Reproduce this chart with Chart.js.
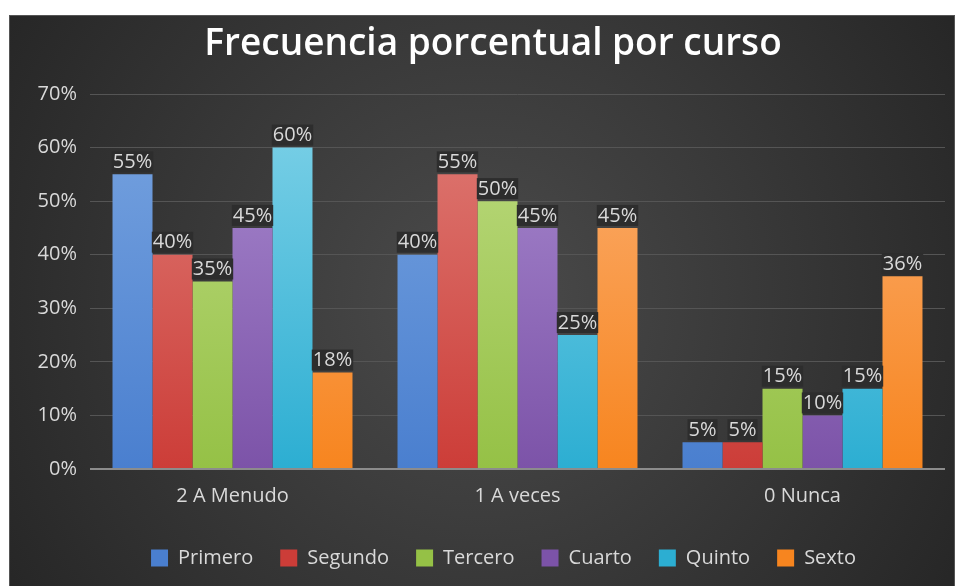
<!DOCTYPE html>
<html><head><meta charset="utf-8">
<script src="https://cdn.jsdelivr.net/npm/chart.js@4/dist/chart.umd.min.js"></script>
<style>html,body{margin:0;padding:0;background:#fff;}#wrap{width:957px;height:586px;}</style>
</head><body><div id="wrap"><canvas id="c" width="957" height="586"></canvas></div>
<script>
const categories = ["2 A Menudo", "1 A veces", "0 Nunca"];
const primero = [55, 40, 5];
const segundo = [40, 55, 5];
const tercero = [35, 50, 15];
const cuarto  = [45, 45, 10];
const quinto  = [60, 25, 15];
const sexto   = [18, 45, 36];
const seriesNames = ["Primero", "Segundo", "Tercero", "Cuarto", "Quinto", "Sexto"];
const seriesValues = [primero, segundo, tercero, cuarto, quinto, sexto];
const yTicks = [0, 10, 20, 30, 40, 50, 60, 70];

const topColors = ["#78a4e0", "#df7d77", "#bedb82", "#a98bd0", "#80d2e8", "#fbb074"];
const baseColors = ["#4a7fcf", "#cc3d38", "#95c146", "#7c53a8", "#2caed2", "#f7851f"];
const FONT = "'Open Sans', 'Segoe UI', sans-serif";
const TXT = "#d9d9d9";

function grad(ctx, i) {
  const chart = ctx.chart;
  const a = chart.chartArea;
  if (!a) return baseColors[i];
  const g = chart.ctx.createLinearGradient(0, a.top, 0, a.bottom);
  g.addColorStop(0, topColors[i]);
  g.addColorStop(1, baseColors[i]);
  return g;
}

const bgPlugin = {
  id: 'bg',
  afterLayout(chart) {
    if (chart.legend) { chart.legend.left += 31; chart.legend.right += 31; }
  },
  beforeDraw(chart) {
    const c = chart.ctx;
    c.save();
    c.fillStyle = '#ffffff';
    c.fillRect(0, 0, chart.width, chart.height);
    const g = c.createRadialGradient(480, 300, 20, 480, 300, 560);
    g.addColorStop(0, '#4a4a4a');
    g.addColorStop(1, '#262626');
    c.fillStyle = g;
    c.fillRect(9, 15, 946, 571);
    c.strokeStyle = '#555';
    c.lineWidth = 1;
    c.strokeRect(9.5, 15.5, 945, 580);
    c.fillStyle = '#ffffff';
    c.font = "600 37px " + FONT;
    c.textAlign = 'center';
    c.textBaseline = 'middle';
    c.fillText("Frecuencia porcentual por curso", 493, 44);
    c.restore();
  },
  afterDatasetsDraw(chart) {
    const c = chart.ctx;
    c.save();
    c.font = "20px " + FONT;
    c.textAlign = 'center';
    c.textBaseline = 'middle';
    chart.data.datasets.forEach((ds, di) => {
      const meta = chart.getDatasetMeta(di);
      meta.data.forEach((bar, j) => {
        const txt = ds.data[j] + '%';
        const w = c.measureText(txt).width + 2;
        const cy = bar.y - 12;
        c.fillStyle = '#2d2d2d';
        c.fillRect(bar.x - w / 2, cy - 11, w, 21);
        c.fillStyle = TXT;
        c.fillText(txt, bar.x, cy);
      });
    });
    const a = chart.chartArea;
    const y0 = chart.scales.y.getPixelForValue(0);
    c.strokeStyle = '#8c8c8c';
    c.lineWidth = 2;
    c.beginPath();
    c.moveTo(a.left, y0);
    c.lineTo(a.right, y0);
    c.stroke();
    c.restore();
  }
};

new Chart(document.getElementById('c'), {
  type: 'bar',
  data: {
    labels: categories,
    datasets: seriesNames.map((n, i) => ({
      label: n,
      data: seriesValues[i],
      backgroundColor: (ctx) => grad(ctx, i),
      borderWidth: 0,
      categoryPercentage: 0.842,
      barPercentage: 1.0
    }))
  },
  options: {
    responsive: false,
    animation: false,
    devicePixelRatio: 1,
    layout: { padding: { top: 94, right: 12, left: 0, bottom: 8 } },
    plugins: {
      title: { display: false },
      tooltip: { enabled: false },
      legend: {
        position: 'bottom',
        labels: {
          color: TXT,
          font: { family: FONT, size: 20 },
          boxWidth: 17,
          boxHeight: 17,
          padding: 27,
          generateLabels(chart) {
            return chart.data.datasets.map((d, i) => ({
              text: d.label,
              fillStyle: baseColors[i],
              strokeStyle: baseColors[i],
              lineWidth: 0,
              fontColor: TXT,
              datasetIndex: i
            }));
          }
        }
      }
    },
    scales: {
      x: {
        grid: { display: false, drawTicks: false },
        border: { display: false },
        ticks: { color: TXT, font: { family: FONT, size: 20 }, padding: 15 },
        afterFit(s) { s.height = 52; }
      },
      y: {
        min: 0, max: 70,
        afterBuildTicks(s) { s.ticks = yTicks.map(v => ({ value: v })); },
        grid: { color: '#555555', lineWidth: 1, drawTicks: false },
        border: { display: false },
        ticks: { color: TXT, font: { family: FONT, size: 20 }, padding: 13, callback: v => v + '%' },
        afterFit(s) { s.width = 90; }
      }
    }
  },
  plugins: [bgPlugin]
});
</script></body></html>
